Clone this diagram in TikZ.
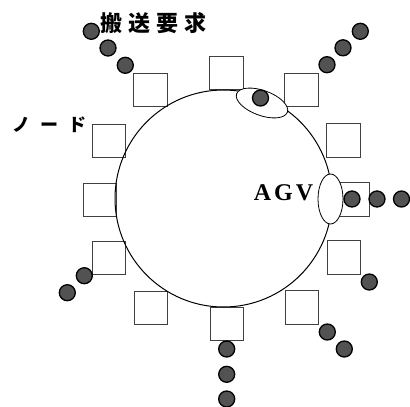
\documentclass[tikz,border=0pt]{standalone}
\usepackage{fontspec}
\newfontfamily\jpfont{Noto Sans CJK JP}
\newfontfamily\serifagv{Liberation Serif}
\usepackage{tikz}
\usetikzlibrary{shapes.geometric}

\begin{document}
\begin{tikzpicture}[x=1pt, y=-1pt,
  station/.style={draw=black!75, line width=0.6pt, minimum size=33.5pt, inner sep=0pt},
  job/.style={circle, draw=black, line width=1.3pt, fill=black!68, minimum size=16pt, inner sep=0pt},
  vehicle/.style={ellipse, draw=black, line width=0.8pt, fill=white, inner sep=0pt}]
  \useasboundingbox (0,0) rectangle (410,407);
  % stations round the loop
  \node[station] (st1)  at (226.5,73)  {};
  \node[station] (st2)  at (301.5,90)  {};
  \node[station] (st3)  at (343.5,140.5) {};
  \node[station] (st4)  at (352.5,199.5) {};
  \node[station] (st5)  at (344,257.5) {};
  \node[station] (st6)  at (302,307.5) {};
  \node[station] (st7)  at (227,324)   {};
  \node[station] (st8)  at (151,308)   {};
  \node[station] (st9)  at (109,258)   {};
  \node[station] (st10) at (100,200)   {};
  \node[station] (st11) at (109,141)   {};
  \node[station] (st12) at (150.5,90)  {};
  % loop track
  \coordinate (loopc) at (223.5,198.5);
  \draw[line width=1pt] (loopc) circle[radius=108.5pt];
  % vehicles
  \node[vehicle, minimum width=54pt, minimum height=25pt, rotate=-20] (agv1) at (262,103) {};
  \node[vehicle, minimum width=25pt, minimum height=50pt] (agv2) at (330.5,199) {};
  % transport requests
  \node[job] (rq1)  at (260.5,98)  {};
  \node[job] (rq2)  at (91.3,31.3) {};
  \node[job] (rq3)  at (108,48)    {};
  \node[job] (rq4)  at (125.3,65.3) {};
  \node[job] (rq5)  at (360.3,31.3) {};
  \node[job] (rq6)  at (343,47.8)  {};
  \node[job] (rq7)  at (327,64.7)  {};
  \node[job] (rq8)  at (352,199)   {};
  \node[job] (rq9)  at (377,199)   {};
  \node[job] (rq10) at (401.5,199) {};
  \node[job] (rq11) at (369.3,282) {};
  \node[job] (rq12) at (327.3,332) {};
  \node[job] (rq13) at (344.3,349) {};
  \node[job] (rq14) at (226.7,349) {};
  \node[job] (rq15) at (226.7,374.3) {};
  \node[job] (rq16) at (226.7,399) {};
  \node[job] (rq17) at (84.3,275.7) {};
  \node[job] (rq18) at (67.3,292.7) {};
  % labels
  \node[font=\jpfont\bfseries\fontsize{22}{24}\selectfont, inner sep=0pt] (reqlab) at (153.5,23)
    {搬\hspace{6pt}送\hspace{6pt}要\hspace{6pt}求};
  \node[font=\jpfont\bfseries\fontsize{18}{20}\selectfont, inner sep=0pt] (nodelab) at (49.5,125)
    {ノ\hspace{10pt}ー\hspace{10pt}ド};
  \node[font=\serifagv\bfseries\fontsize{24}{26}\selectfont, inner sep=0pt, anchor=base] (agvlab) at (283.5,200)
    {A\hspace{3pt}G\hspace{3pt}V};
\end{tikzpicture}
\end{document}
